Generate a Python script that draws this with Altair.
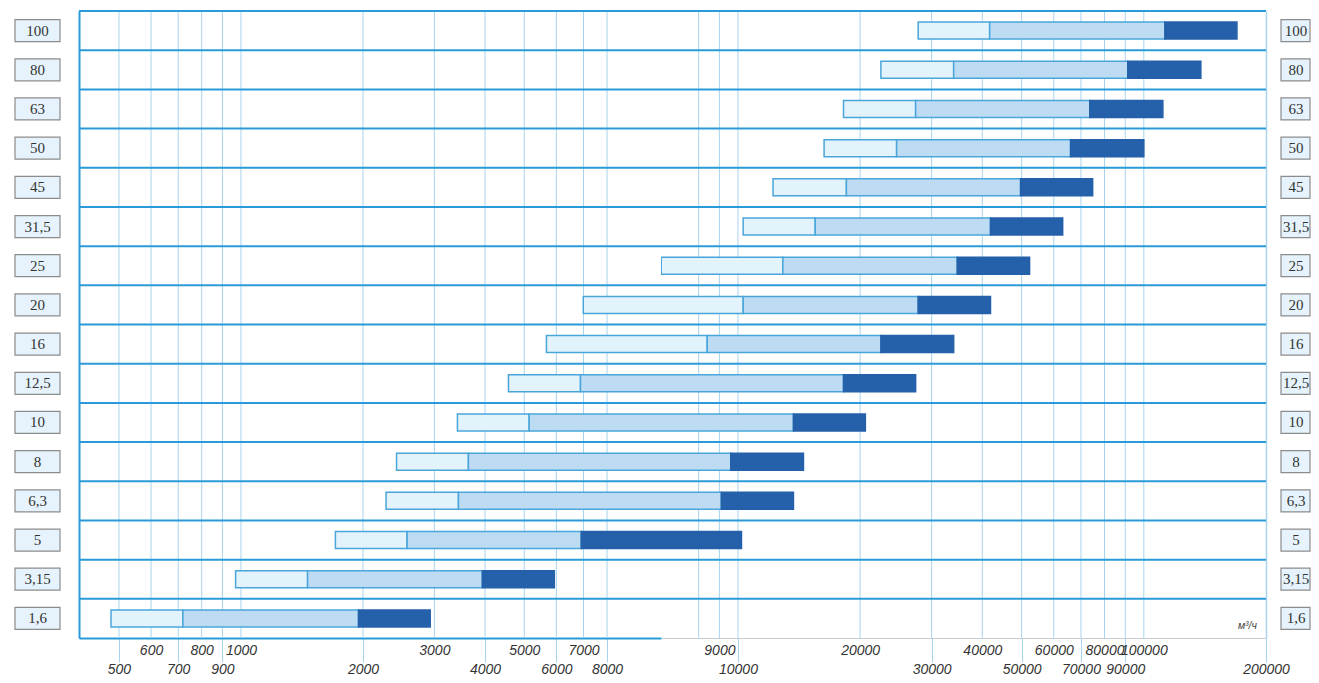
import json
import altair as alt
import pandas as pd

# Row labels (top to bottom)
rows = ["100", "80", "63", "50", "45", "31,5", "25", "20", "16", "12,5", "10", "8", "6,3", "5", "3,15", "1,6"]

# Right half of the chart (read against the right-hand scale, m3/h)
# boundaries: light start, mid start, dark start, end; None = beyond the edge of this half
right_light = [27800, 22500, 18200, 16300, 12200, 10300, 6470, None, None, None, None, None, None, None, None, None]
right_mid = [41700, 34000, 27400, 24600, 18500, 15500, 12900, 10300, 8400, None, None, None, None, None, None, None]
right_dark = [112700, 91300, 73600, 66000, 49700, 41900, 34700, 27800, 22500, 18200, 13700, 9600, 9100, None, None, None]
right_end = [169600, 138200, 111400, 100000, 74800, 63100, 52300, 41900, 34000, 27400, 20600, 14500, 13700, 10200, None, None]

# Left half of the chart (read against the left-hand scale)
left_light = [None] * 7 + [6990, 5670, 4570, 3420, 2420, 2280, 1710, 970, 478]
left_mid = [None] * 7 + [None, None, 6880, 5140, 3640, 3440, 2570, 1460, 719]
left_dark = [None] * 13 + [6910, 3940, 1950]
left_end = [None] * 14 + [5930, 2930]

# Axis ticks / grid
left_grid = [500, 600, 700, 800, 900, 1000, 2000, 3000, 4000, 5000, 6000, 7000, 8000]
left_upper = [600, 800, 1000, 3000, 5000, 7000]
left_lower = [500, 700, 900, 2000, 4000, 6000, 8000]
right_grid = [8000, 9000, 10000, 20000, 30000, 40000, 50000, 60000, 70000, 80000, 90000, 100000]
right_upper = [9000, 20000, 40000, 60000, 80000, 100000]
right_lower = [10000, 30000, 50000, 70000, 90000, 200000]

unit_label = "м³/ч"
unit_pos = 190000

LEFT_DOMAIN = [398.5, 10870]
RIGHT_DOMAIN = [6462, 200000]
kinds = ["light", "mid", "dark"]

PLOT_H = 627
ROWLINE = "#2a9bd8"
GRID = "#a8d4ef"


def segments(light, mid, dark, end, lo, hi):
    recs = []
    for i, r in enumerate(rows):
        b = [light[i], mid[i], dark[i], end[i]]
        if all(v is None for v in b):
            continue
        first = next(k for k, v in enumerate(b) if v is not None)
        vals = [(lo / 1.05 if k < first else hi * 1.05) if v is None else v for k, v in enumerate(b)]
        for k in range(3):
            if vals[k + 1] > vals[k]:
                recs.append({"row": r, "x0": vals[k], "x1": vals[k + 1], "kind": kinds[k]})
    return pd.DataFrame(recs)


yscale = alt.Scale(domain=rows, paddingInner=0, paddingOuter=0)


def half(seg, grid_vals, upper, lower, dom, width, yaxis, domain_color, domain_width, extra=None):
    xscale = alt.Scale(type="log", domain=dom, nice=False)
    test = "indexof(%s, datum.value) >= 0" % json.dumps(lower)
    xaxis = alt.Axis(
        values=upper + lower, format="d", grid=False, title=None,
        labelFont="Liberation Sans", labelFontStyle="italic", labelFontSize=14,
        labelColor="#333333", labelOverlap=False, labelFlush=False,
        domainColor=domain_color, domainWidth=domain_width,
        ticks=True, tickColor=GRID, tickWidth=1,
        tickSize={"condition": {"test": test, "value": 24}, "value": 0},
        labelPadding={"condition": {"test": test, "value": 0}, "value": 5},
    )
    grid = alt.Chart(pd.DataFrame({"v": grid_vals})).mark_rule(color=GRID, strokeWidth=1).encode(
        x=alt.X("v:Q", scale=xscale, axis=xaxis)
    )
    hl = alt.Chart(pd.DataFrame({"row": rows})).mark_rule(color=ROWLINE, strokeWidth=2).encode(
        y=alt.Y("row:N", bandPosition=0, scale=yscale, axis=yaxis)
    )
    bars = alt.Chart(seg).mark_bar(size=17, clip=True, strokeWidth=1.5).encode(
        x=alt.X("x0:Q", scale=xscale),
        x2="x1:Q",
        y=alt.Y("row:N", scale=yscale),
        fill=alt.Fill("kind:N", scale=alt.Scale(domain=kinds, range=["#e3f3fb", "#bddcf3", "#2461aa"]), legend=None),
        stroke=alt.Stroke("kind:N", scale=alt.Scale(domain=kinds, range=["#4aa6da", "#4aa6da", "#2461aa"]), legend=None),
    )
    layers = [grid, hl, bars]
    if extra is not None:
        layers.append(extra)
    return alt.layer(*layers).properties(width=width, height=PLOT_H)


left_seg = segments(left_light, left_mid, left_dark, left_end, *LEFT_DOMAIN)
right_seg = segments(right_light, right_mid, right_dark, right_end, *RIGHT_DOMAIN)

unit = alt.Chart(pd.DataFrame({"v": [unit_pos], "row": ["1,6"], "t": [unit_label]})).mark_text(
    font="Liberation Sans", fontStyle="italic", fontSize=10.5, color="#444444", align="right", dy=8
).encode(x=alt.X("v:Q"), y=alt.Y("row:N", scale=yscale), text="t:N")

left_half = half(
    left_seg, left_grid, left_upper, left_lower, LEFT_DOMAIN, 582,
    alt.Axis(labels=False, ticks=False, title=None, domainColor=ROWLINE, domainWidth=2),
    ROWLINE, 2,
)
right_half = half(
    right_seg, right_grid, right_upper, right_lower, RIGHT_DOMAIN, 605,
    alt.Axis(orient="right", labels=False, ticks=False, title=None, domainColor=GRID, domainWidth=1.5),
    "#c6ccd2", 1, extra=unit,
)

lab_df = pd.DataFrame({"row": rows})


def label_panel(width, x0, x1, xt):
    box = alt.Chart(lab_df).mark_bar(size=22, fill="#e6f3fc", stroke="#8c8c8c", strokeWidth=1.2, orient="horizontal").encode(
        y=alt.Y("row:N", scale=yscale, axis=None), x=alt.value(x0), x2=alt.value(x1)
    )
    txt = alt.Chart(lab_df).mark_text(font="Liberation Serif", fontSize=15, color="#333333").encode(
        y=alt.Y("row:N", scale=yscale, axis=None), x=alt.value(xt), text="row:N"
    )
    return alt.layer(box, txt).properties(width=width, height=PLOT_H)


chart = alt.hconcat(
    label_panel(71, 7, 52, 29.5), left_half, right_half, label_panel(45, 15, 44, 30),
    spacing=0, bounds="flush",
).properties(padding={"left": 0, "top": 2, "right": 0, "bottom": 0}).configure_view(strokeWidth=0)

chart.save("out.html", embed_options={"renderer": "svg", "actions": False})
